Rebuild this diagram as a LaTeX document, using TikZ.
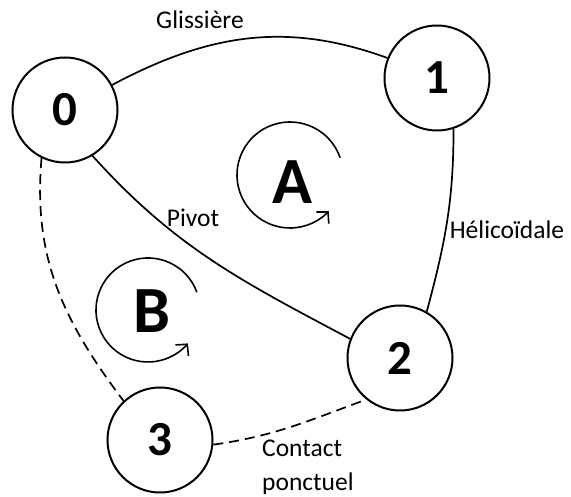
\documentclass[tikz,border=0pt]{standalone}
\usepackage{fontspec}
\setmainfont{Carlito}
\usetikzlibrary{arrows.meta}
\begin{document}
\begin{tikzpicture}[x=1pt,y=1pt,
  part/.style={circle,draw,line width=2pt,minimum size=105pt,inner sep=0pt,font=\fontsize{49}{49}\selectfont\bfseries},
  link/.style={line width=1.7pt},
  dlink/.style={line width=1.7pt,dash pattern=on 10pt off 6pt},
  lbl/.style={font=\fontsize{25.5}{25.5}\selectfont,inner sep=0pt},
  cyc/.style={line width=1.6pt,-{Straight Barb[length=8pt,width=17pt,line width=1.6pt]}},
  cyclbl/.style={font=\fontsize{66}{66}\selectfont\bfseries,inner sep=0pt}]
\useasboundingbox (0,0) rectangle (571,497);
\node[part] (n0) at (65,387) {0};
\node[part] (n1) at (437,419) {1};
\node[part] (n2) at (400,139) {2};
\node[part] (n3) at (160,57) {3};
\draw[link] (n0.28) to[out=28,in=160] (n1.158);
\draw[link] (n1.-72) to[out=-90,in=75] (n2.60);
\draw[link] (n0.-59) to[out=-48,in=152] (n2.159);
\draw[dlink] (n0.-116) to[out=-95,in=127] (n3.133);
\draw[dlink] (n3.-5) to[out=8,in=200] (n2.231);
\node[lbl] (lg) at (200,477) {Glissière};
\node[lbl] (lp) at (193,279) {Pivot};
\node[lbl] (lh) at (507,267) {Hélicoïdale};
\node[lbl,anchor=base west] (lc1) at (262,40) {Contact};
\node[lbl,anchor=base west] (lc2) at (262,6) {ponctuel};
\coordinate (cA) at (290,322);
\coordinate (cB) at (148,187);
\draw[cyc] (cA) ++(19:53) arc[start angle=19,end angle=317,radius=53];
\draw[cyc] (cB) ++(20:52) arc[start angle=20,end angle=320,radius=52];
\node[cyclbl] (lA) at (292,315) {A};
\node[cyclbl] (lB) at (152,186) {B};
\end{tikzpicture}
\end{document}
